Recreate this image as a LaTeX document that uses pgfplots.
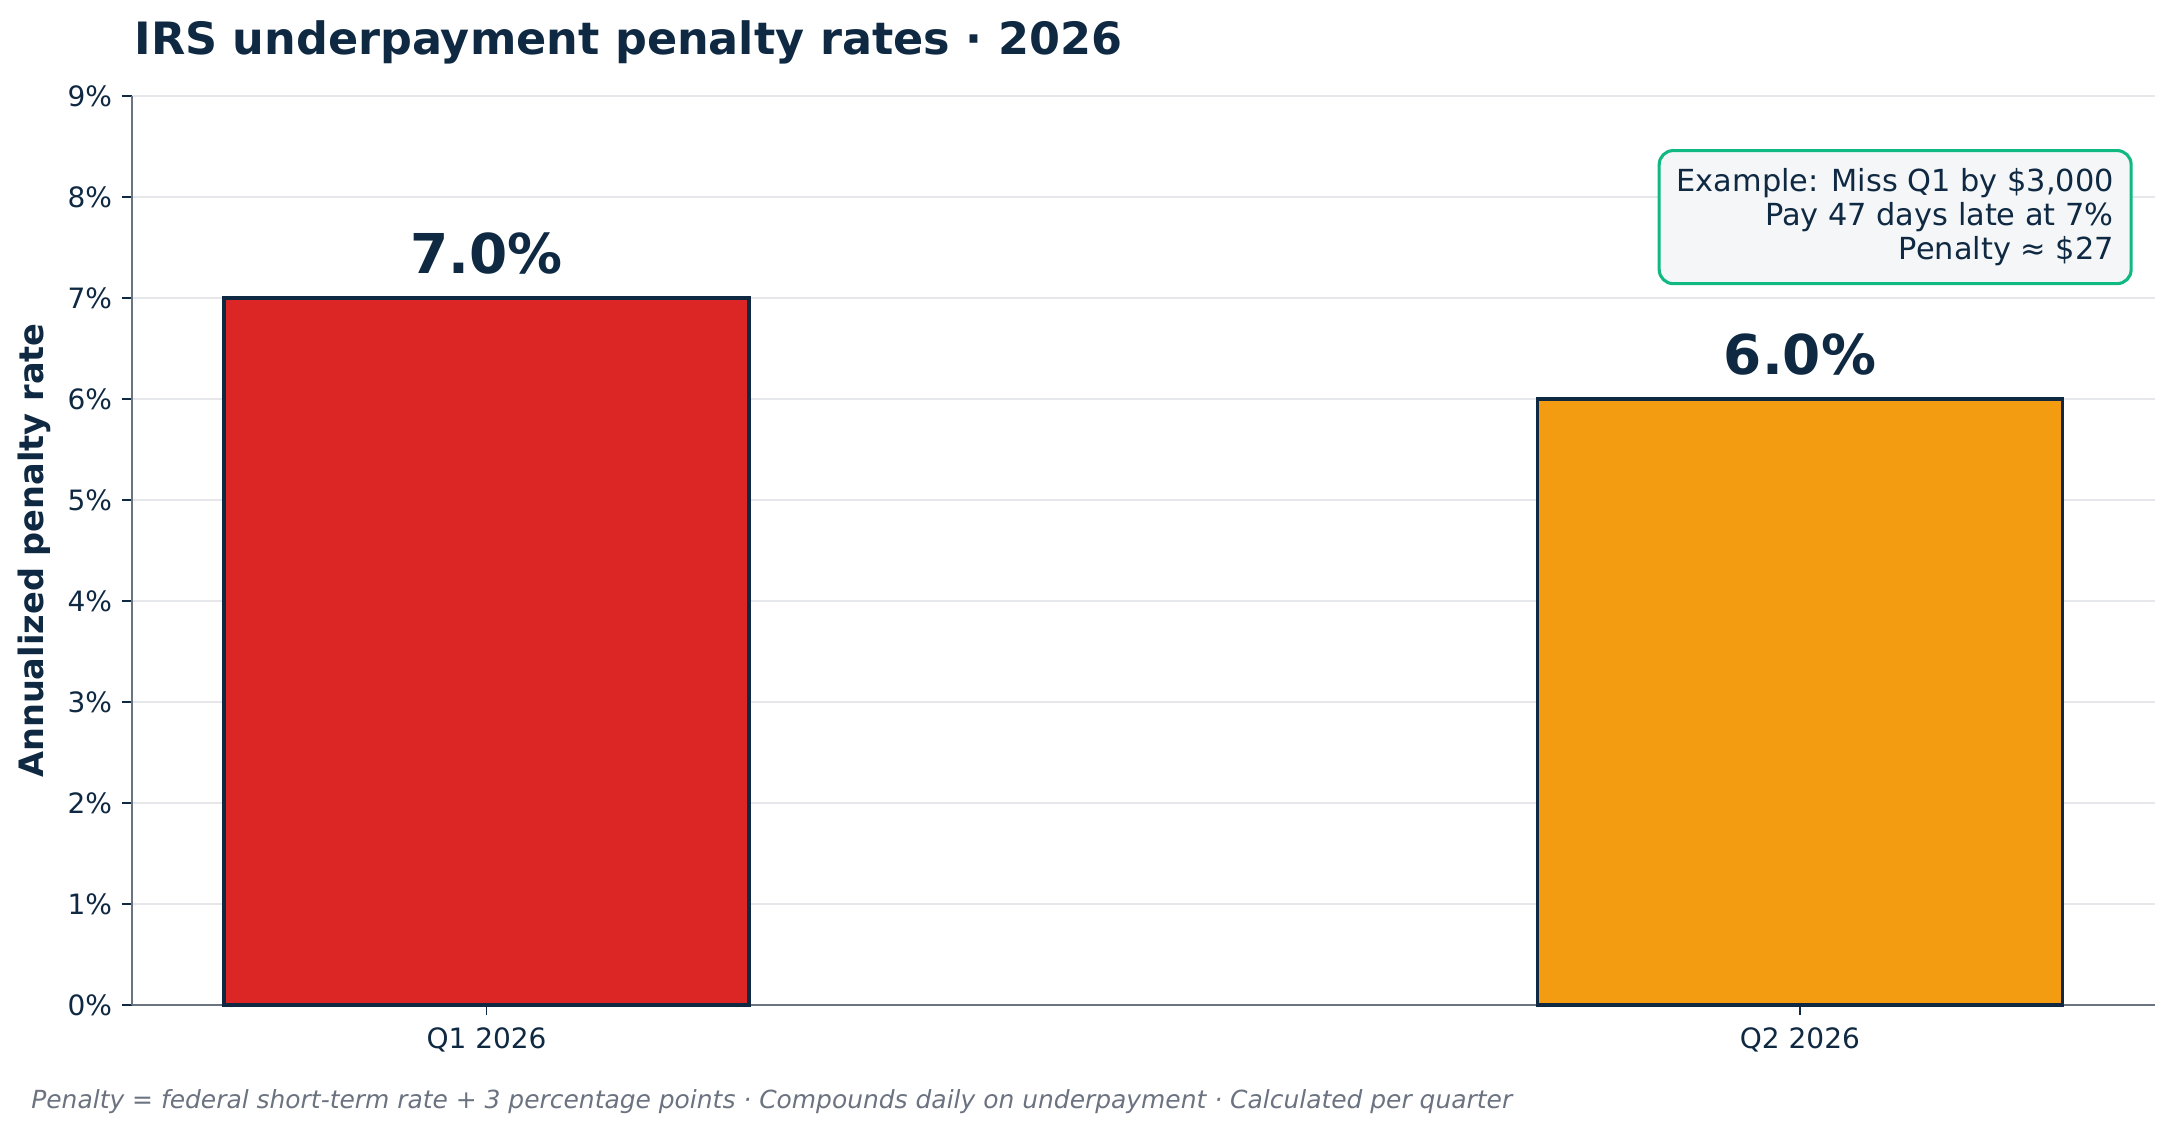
\documentclass[border=0pt]{standalone}
\usepackage{fontspec}
\setmainfont{DejaVu Sans}
\usepackage{pgfplots}
\pgfplotsset{compat=1.18}

\definecolor{navy}{HTML}{0F2942}
\definecolor{barred}{HTML}{DC2626}
\definecolor{barorange}{HTML}{F39C12}
\definecolor{boxgreen}{HTML}{10B981}
\definecolor{boxfill}{HTML}{F4F6F8}
\definecolor{gridc}{HTML}{E5E7EB}
\definecolor{spine}{HTML}{6B7280}
\definecolor{foot}{HTML}{6B7280}

\begin{document}
\begin{tikzpicture}
\path[use as bounding box] (-47.1pt,-46.1pt) rectangle (728.6pt,358.8pt);
\begin{axis}[
  scale only axis, width=722pt, height=324.5pt,
  xmin=-0.27, xmax=1.27, ymin=0, ymax=9,
  axis x line*=bottom, axis y line*=left,
  axis line style={draw=spine, line width=0.75pt},
  xtick={0,1}, xticklabels={Q1 2026, Q2 2026},
  ytick={0,1,...,9},
  yticklabel={\pgfmathprintnumber{\tick}\%},
  ymajorgrids, grid style={draw=gridc, line width=0.5pt},
  tick align=outside, major tick length=3.6pt,
  major tick style={draw=navy, line width=0.6pt},
  ticklabel style={font=\fontsize{10}{12}\selectfont, text=navy},
  xticklabel style={yshift=-0.8pt},
  /pgf/number format/assume math mode=true,
  ybar, bar width=0.4, bar shift=0pt,
  nodes near coords={\pgfmathprintnumber[fixed,fixed zerofill,precision=1]{\pgfplotspointmeta}\%},
  every node near coord/.append style={font=\bfseries\fontsize{19.6}{24}\selectfont,
    text=navy, anchor=base, yshift=8.9pt},
  clip=false,
]
\addplot[fill=barred, draw=navy, line width=1.25pt] coordinates {(0,7.0)};
\addplot[fill=barorange, draw=navy, line width=1.25pt] coordinates {(1,6.0)};
\end{axis}

% title, axis label, footnote
\node[anchor=base west, font=\bfseries\fontsize{15.9}{19}\selectfont, text=navy, inner sep=0pt]
  at (0.7pt,339.5pt) {IRS underpayment penalty rates · 2026};
\node[anchor=base, rotate=90, font=\bfseries\fontsize{12}{14}\selectfont, text=navy, inner sep=0pt]
  at (-31.4pt,162.25pt) {Annualized penalty rate};
\node[anchor=base west, font=\itshape\fontsize{8.9}{10}\selectfont, text=foot, inner sep=0pt]
  at (-36.1pt,-36.9pt) {Penalty = federal short-term rate + 3 percentage points · Compounds daily on underpayment · Calculated per quarter};

% example box
\node[anchor=north east, draw=boxgreen, fill=boxfill, line width=1.1pt, rounded corners=5pt,
  align=right, font=\fontsize{10.85}{12.2}\selectfont, text=navy,
  inner xsep=6.2pt, inner ysep=6.3pt]
  at (714.2pt,305.6pt) {Example: Miss Q1 by \$3,000\\Pay 47 days late at 7\%\\Penalty ≈ \$27};
\end{tikzpicture}
\end{document}
